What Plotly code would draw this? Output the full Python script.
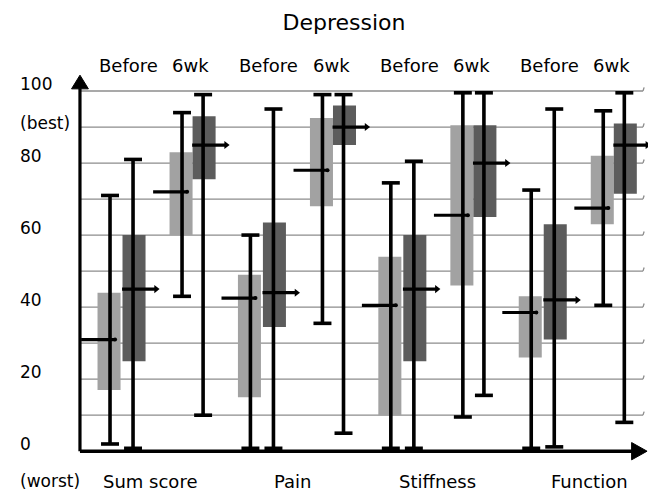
import plotly.graph_objects as go

# ---------------- data ----------------
categories = ["Sum score", "Pain", "Stiffness", "Function"]
period_labels = ["Before", "6wk"]
series_names = ["Before (light)", "Before (dark)", "6wk (light)", "6wk (dark)"]
series_colors = ["#a2a2a2", "#5c5c5c", "#a2a2a2", "#5c5c5c"]

# each list: one row per series, one value per category
whisker_min = [
    [2, 0.8, 0.8, 0.8],
    [0.8, 0.8, 0.8, 1.2],
    [43, 35.5, 9.5, 40.5],
    [10, 5, 15.5, 8],
]
box_q1 = [
    [17, 15, 10, 26],
    [25, 34.5, 25, 31],
    [60, 68, 46, 63],
    [75.5, 85, 65, 71.5],
]
median = [
    [31, 42.5, 40.5, 38.5],
    [45, 44, 45, 42],
    [72, 78, 65.5, 67.5],
    [85, 90, 80, 85],
]
box_q3 = [
    [44, 49, 54, 43],
    [60, 63.5, 60, 63],
    [83, 92.5, 90.5, 82],
    [93, 96, 90.5, 91],
]
whisker_max = [
    [71, 60, 74.5, 72.5],
    [81, 95, 80.5, 95],
    [94, 99, 99.5, 94.5],
    [99, 99, 99.5, 99.5],
]

ytick_values = [100, 90, 80, 60, 40, 20, 0]
ytick_labels = ["100", "(best)", "80", "60", "40", "20", "0"]
grid_values = [10, 20, 30, 40, 50, 60, 70, 80, 90, 100]

# ---------------- layout geometry ----------------
offsets = [-0.342, -0.164, 0.171, 0.335]
label_shift = [-0.05, -0.034, 0.0, 0.077]
box_w = 0.164
cap_half = 0.064
X0 = -0.549       # y-axis position
XR = 3.461        # right end of grid lines
FONT = "DejaVu Sans"

fig = go.Figure()

# boxes
for s in range(4):
    xs = [c + offsets[s] for c in range(len(categories))]
    fig.add_trace(go.Bar(
        x=xs, base=box_q1[s],
        y=[q3 - q1 for q1, q3 in zip(box_q1[s], box_q3[s])],
        width=box_w, marker=dict(color=series_colors[s], line=dict(width=0)),
        name=series_names[s], showlegend=False, hoverinfo="skip"))

# whiskers and caps
for s in range(4):
    light = s % 2 == 0
    wx_list, wy_list, cx, cy = [], [], [], []
    for c in range(len(categories)):
        wx = c + offsets[s] + (0.007 if light else -0.007)
        lo, hi = whisker_min[s][c], whisker_max[s][c]
        wx_list += [wx, wx, None]
        wy_list += [lo, hi, None]
        cx += [wx - cap_half, wx + cap_half, None, wx - cap_half, wx + cap_half, None]
        cy += [lo, lo, None, hi, hi, None]
    fig.add_trace(go.Scatter(x=wx_list, y=wy_list, mode="lines",
                             line=dict(color="black", width=3.6),
                             showlegend=False, hoverinfo="skip"))
    fig.add_trace(go.Scatter(x=cx, y=cy, mode="lines",
                             line=dict(color="black", width=3.6),
                             showlegend=False, hoverinfo="skip"))

# medians
for s in range(4):
    light = s % 2 == 0
    a, b = (-0.199, 0.043) if light else (-0.085, 0.157)
    mx, my, ax_, ay_ = [], [], [], []
    for c in range(len(categories)):
        bx = c + offsets[s]
        m = median[s][c]
        mx += [bx + a, bx + b, None]
        my += [m, m, None]
        ax_.append(bx + b)
        ay_.append(m)
    fig.add_trace(go.Scatter(x=mx, y=my, mode="lines",
                             line=dict(color="black", width=3.2),
                             showlegend=False, hoverinfo="skip"))
    fig.add_trace(go.Scatter(x=ax_, y=ay_, mode="markers",
                             marker=dict(symbol="triangle-right" if not light else "circle",
                                         size=7 if not light else 4, color="black"),
                             showlegend=False, hoverinfo="skip"))

shapes = []
for v in grid_values:
    shapes.append(dict(type="line", xref="x", yref="y", x0=X0, x1=XR, y0=v, y1=v,
                       line=dict(color="#8c8c8c", width=1.3), layer="below"))
    shapes.append(dict(type="line", xref="x", yref="y", x0=XR, x1=XR + 0.008, y0=v, y1=v + 1.0,
                       line=dict(color="#8c8c8c", width=1.3), layer="below"))
# axes
shapes.append(dict(type="line", xref="x", yref="y", x0=X0, x1=X0, y0=0, y1=100.8,
                   line=dict(color="black", width=3.2)))
shapes.append(dict(type="path", xref="x", yref="y",
                   path=f"M {X0-0.06} 100.6 L {X0+0.06} 100.6 L {X0} 104.4 Z",
                   fillcolor="black", line=dict(color="black", width=1)))
shapes.append(dict(type="line", xref="x", yref="y", x0=X0, x1=3.39, y0=0, y1=0,
                   line=dict(color="black", width=3.6)))
shapes.append(dict(type="path", xref="x", yref="y",
                   path="M 3.38 -2.4 L 3.38 2.4 L 3.49 0 Z",
                   fillcolor="black", line=dict(color="black", width=1)))

ann = []
for c, name in enumerate(categories):
    ann.append(dict(x=c - 0.205, y=1, xref="x", yref="paper", text=period_labels[0],
                    showarrow=False, yanchor="middle", yshift=8,
                    font=dict(family=FONT, size=18, color="black")))
    ann.append(dict(x=c + 0.24, y=1, xref="x", yref="paper", text=period_labels[1],
                    showarrow=False, yanchor="middle", yshift=8,
                    font=dict(family=FONT, size=18, color="black")))
    ann.append(dict(x=c + label_shift[c], y=0, xref="x", yref="paper", text=name,
                    showarrow=False, yanchor="middle", yshift=-19,
                    font=dict(family=FONT, size=18, color="black")))
for v, t in zip(ytick_values, ytick_labels):
    ann.append(dict(x=-0.0895, y=v, xref="paper", yref="y", text=t, showarrow=False,
                    xanchor="left", yanchor="middle", yshift=4 if t.startswith("(") else 7,
                    font=dict(family=FONT, size=17, color="black")))
ann.append(dict(x=-0.0895, y=0, xref="paper", yref="paper", text="(worst)", showarrow=False,
                xanchor="left", yanchor="middle", yshift=-19,
                font=dict(family=FONT, size=17, color="black")))

# the page body adds an 8px margin; figure is sized so the plot lands where the reference has it
fig.update_layout(
    width=648, height=484,
    margin=dict(l=62, r=5, t=65, b=30),
    paper_bgcolor="white", plot_bgcolor="white",
    barmode="overlay",
    title=dict(text="Depression", x=336 / 648, y=1 - 14 / 484, xanchor="center", yanchor="middle",
               font=dict(family=FONT, size=22, color="black")),
    xaxis=dict(range=[-0.62, 3.518], showgrid=False, zeroline=False, showticklabels=False,
               showline=False, fixedrange=True),
    yaxis=dict(range=[-3, 105], showgrid=False, zeroline=False, showticklabels=False,
               showline=False, fixedrange=True),
    shapes=shapes, annotations=ann, showlegend=False,
)

fig.write_html("out.html")
